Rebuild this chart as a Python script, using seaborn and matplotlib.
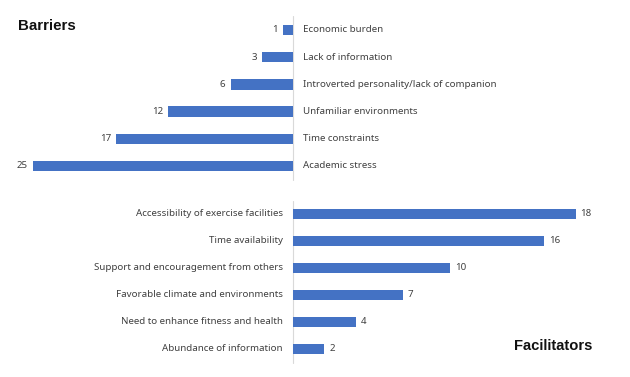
import matplotlib
matplotlib.use("Agg")
import matplotlib.pyplot as plt
import seaborn as sns
import pandas as pd
from matplotlib.transforms import offset_copy

barrier_labels = ["Economic burden", "Lack of information",
                  "Introverted personality/lack of companion",
                  "Unfamiliar environments", "Time constraints", "Academic stress"]
barrier_values = [1, 3, 6, 12, 17, 25]

facilitator_labels = ["Accessibility of exercise facilities", "Time availability",
                      "Support and encouragement from others",
                      "Favorable climate and environments",
                      "Need to enhance fitness and health", "Abundance of information"]
facilitator_values = [18, 16, 10, 7, 4, 2]

sns.set_theme(style="white")
plt.rcParams['font.family'] = ['Noto Sans', 'DejaVu Sans']

BLUE = "#4472C4"
TXT = "#404040"
W, H = 630, 377
fig = plt.figure(figsize=(W / 100, H / 100), dpi=100)

cx = 293
ax1 = fig.add_axes([0, 1 - 179.6 / H, cx / W, 163.2 / H])
ax2 = fig.add_axes([cx / W, 1 - 362.5 / H, (W - cx) / W, 162 / H])

df_b = pd.DataFrame({"label": barrier_labels, "value": barrier_values})
df_f = pd.DataFrame({"label": facilitator_labels, "value": facilitator_values})

sns.barplot(data=df_b, x="value", y="label", orient="h", color=BLUE,
            width=0.38, ax=ax1, saturation=1, linewidth=0)
sns.barplot(data=df_f, x="value", y="label", orient="h", color=BLUE,
            width=0.38, ax=ax2, saturation=1, linewidth=0)

ax1.set_xlim(cx / 10.4, 0)
ax2.set_xlim(0, (W - cx) / 15.7)
ax1.set_ylim(5.5, -0.5)
ax2.set_ylim(5.5, -0.5)

fs = 7.0
for ax in (ax1, ax2):
    ax.set_xlabel("")
    ax.set_ylabel("")
    ax.set_xticks([])
    ax.set_yticks([])
    for s in ax.spines.values():
        s.set_visible(False)
    ax.patch.set_alpha(0)
    ax.axvline(0, color="#d9d9d9", lw=0.8, zorder=0, clip_on=False)

dy = 1.2
for i, (lab, v) in enumerate(zip(barrier_labels, barrier_values)):
    ax1.text(0, i, lab, transform=offset_copy(ax1.transData, fig=fig, x=10, y=dy, units='dots'),
             ha="left", va="center_baseline", fontsize=fs, color=TXT)
    ax1.text(v, i, str(v), transform=offset_copy(ax1.transData, fig=fig, x=-5, y=dy, units='dots'),
             ha="right", va="center_baseline", fontsize=fs, color=TXT)
for i, (lab, v) in enumerate(zip(facilitator_labels, facilitator_values)):
    ax2.text(0, i, lab, transform=offset_copy(ax2.transData, fig=fig, x=-10, y=dy, units='dots'),
             ha="right", va="center_baseline", fontsize=fs, color=TXT)
    ax2.text(v, i, str(v), transform=offset_copy(ax2.transData, fig=fig, x=5, y=dy, units='dots'),
             ha="left", va="center_baseline", fontsize=fs, color=TXT)

fig.text(18 / W, 1 - 26.5 / H, "Barriers", fontsize=10.8, fontweight="bold",
         family=["Liberation Sans", "DejaVu Sans"], color="#111111", ha="left", va="center")
fig.text(514 / W, 1 - 346 / H, "Facilitators", fontsize=10.6, fontweight="bold",
         family=["Liberation Sans", "DejaVu Sans"], color="#111111", ha="left", va="center")

fig.savefig("out.png", dpi=100)
